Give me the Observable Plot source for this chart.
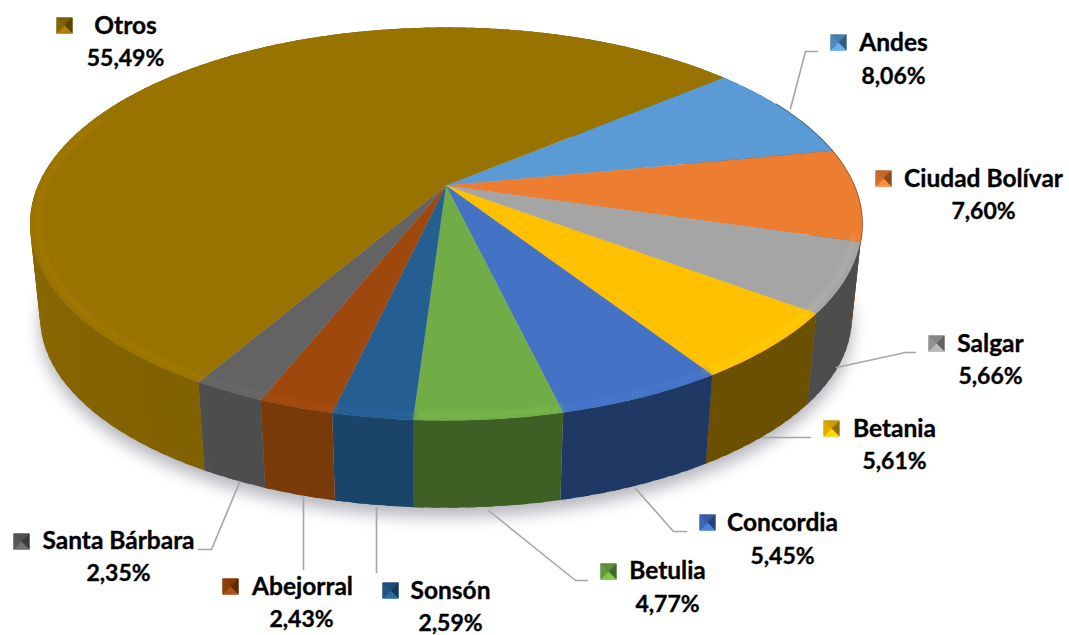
<!DOCTYPE html>
<html><head><meta charset="utf-8">
<style>html,body{margin:0;padding:0;background:#fff}svg{display:block}</style>
<script src="https://cdn.jsdelivr.net/npm/d3@7"></script>
<script src="https://cdn.jsdelivr.net/npm/@observablehq/plot@0.6"></script>
</head><body><script>
// Data
const names = ["Andes","Ciudad Bolívar","Salgar","Betania","Concordia","Betulia","Sonsón","Abejorral","Santa Bárbara","Otros"];
const values = [8.06,7.60,5.66,5.61,5.45,4.77,2.59,2.43,2.35,55.49];
// Styling
const topColors  = ["#5b9bd5","#ed7d31","#a5a5a5","#ffc000","#4472c4","#70ad47","#255e91","#9e480e","#636363","#997300"];
const wallColors = ["#2e5f8c","#8e4b1d","#4d4d4d","#6b5000","#1f3864","#3f6024","#1b4568","#793a0a","#4c4c4c","#7f6000"];
// Layout: label centre, swatch centre, leader polyline
const nameX  = [893,983,990,894,782,667,450,302,118,125];
const nameY  = [43,179,344,429,523,571,591,587,541,26];
const pctX   = [893,983,990,894,782,667,450,301,118,125];
const pctY   = [76,211,376,461,556,604,623,619,573,58];
const swatchX= [838,883,936,831,707,608,390,230,21,64];
const swatchY= [42,178,343,428,522,571,590,586,541,25];
const leaders= [[[790,108],[805,51],[817,51]],[],[[836,367],[905,352],[915,352]],[[762,437],[810,437]],
  [[635,488],[673,531],[686,531]],[[488,510],[575,580],[587,580]],[[376,507],[376,572]],[[303,497],[303,569]],
  [[239,482],[211,549],[198,549]],[]];
const wallSweepBack = [0,0,14,0,0,0,0,0,0,0];
const startAngle = 50.0;
const persp = 0.196;
const topRim = {cx:445.5, cy:185, a:408, b:189};
const botRim = {cx:445.5, cy:280, a:398, b:182.7};

const rad = d => d*Math.PI/180;
function proj(p, deg, r=1){
  const u = r*Math.sin(rad(deg)), v = -r*Math.cos(rad(deg)), w = 1 - persp*v;
  return [p.cx + p.a*u/w, p.cy + p.b*v/w];
}
const total = d3.sum(values);
const ends = d3.cumsum(values).map(c => startAngle + c/total*360);
const starts = ends.map((e,i) => i ? ends[i-1] : startAngle);
function angles(a,b,step=1){ const out=[]; for(let t=a;t<b;t+=step) out.push(t); out.push(b); return out; }

const faces=[], walls=[], bevels=[], edges=[], swatches=[], lines=[];
names.forEach((n,i)=>{
  faces.push({id:"f"+i,x:topRim.cx,y:topRim.cy,fill:topColors[i]});
  angles(starts[i],ends[i]).forEach(t=>{const [x,y]=proj(topRim,t);faces.push({id:"f"+i,x,y,fill:topColors[i]});});
  // wall strips, each overlapping the next so no seams show
  const as=angles(starts[i],ends[i],2);
  for(let k=as.length-2;k>=0;k--){
    const t0=as[k],t1=Math.min(as[k+1]+1.2,ends[i]),s=Math.sin(rad((as[k]+as[k+1])/2));
    const shade=s<0?0.42*Math.pow(-s,2.5):0;
    const fill=d3.interpolateRgb(wallColors[i],topColors[i])(shade);
    const id=`w${i}-${k}`;
    [proj(topRim,t0),proj(topRim,t1),proj(botRim,t1),proj(botRim,t0)].forEach(([x,y])=>walls.push({id,x,y,fill}));
  }
  if(wallSweepBack[i]){
    const id="wb"+i,fill=wallColors[i];
    [proj(topRim,starts[i]),...angles(starts[i]-wallSweepBack[i],starts[i]).map(t=>proj(botRim,t))].forEach(([x,y])=>walls.push({id,x,y,fill}));
  }
  const a=Math.max(starts[i],104),b=Math.min(ends[i],292);
  if(a<b){
    const stroke=d3.color(topColors[i]).brighter(0.28).formatHex();
    angles(a,b).forEach(t=>{const [x,y]=proj(topRim,t,0.982);bevels.push({id:"b"+i,x,y,stroke});});
  }
  const ea=Math.max(starts[i],62),eb=Math.min(ends[i],106);
  if(ea<eb){
    angles(ea,eb).forEach(t=>{const [x,y]=proj(topRim,t,1);edges.push({id:"e"+i,x,y,stroke:wallColors[i]});});
  }
  // pyramid swatch: base square plus four triangles
  const cx=swatchX[i],cy=swatchY[i],h=8,c=d3.color(topColors[i]);
  const tones=[c.darker(0.6),c.darker(1.5),c.brighter(0.35),c.darker(0.35)];
  [[-h,-h],[h,-h],[h,h],[-h,h]].forEach(([dx,dy])=>swatches.push({id:`sb${i}`,x:cx+dx,y:cy+dy,fill:tones[0].formatHex()}));
  [[[-h,-h],[h,-h]],[[h,-h],[h,h]],[[h,h],[-h,h]],[[-h,h],[-h,-h]]].forEach((e,j)=>{
    const fill=tones[j].formatHex(),id=`s${i}-${j}`;
    [[0,0],...e].forEach(([dx,dy])=>swatches.push({id,x:cx+dx,y:cy+dy,fill}));
  });
  leaders[i].forEach(([x,y])=>lines.push({id:"l"+i,x,y}));
});
const shadow=angles(0,360,2).map(t=>{const [x,y]=proj(botRim,t);return {x,y:y+9};});
const blur=px=>(index,scales,vals,dim,ctx,next)=>{const g=next(index,scales,vals,dim,ctx);g.style.filter=`blur(${px}px)`;return g;};
const labels=names.map((n,i)=>({n,x:nameX[i],y:nameY[i]}));
const pcts=values.map((v,i)=>({t:v.toFixed(2).replace(".",",")+"%",x:pctX[i],y:pctY[i]}));
const textOpts={x:"x",y:"y",fill:"#000",stroke:"#000",strokeWidth:0.35,fontFamily:"Lato, Carlito, sans-serif",fontWeight:700,textAnchor:"middle",lineAnchor:"middle"};

const chart=Plot.plot({
  width:1069,height:635,margin:0,
  x:{domain:[0,1069],range:[0,1069],axis:null},
  y:{domain:[0,635],range:[0,635],axis:null},
  color:{type:"identity"},
  marks:[
    Plot.line(shadow,{x:"x",y:"y",fill:"#b4b4bc",stroke:"none",render:blur(8)}),
    Plot.line(walls,{x:"x",y:"y",z:"id",fill:"fill",stroke:"none"}),
    Plot.line(edges,{x:"x",y:"y",z:"id",stroke:"stroke",strokeWidth:1.6}),
    Plot.line(faces,{x:"x",y:"y",z:"id",fill:"fill",stroke:"none"}),
    Plot.line(bevels,{x:"x",y:"y",z:"id",stroke:"stroke",strokeWidth:4.5,strokeOpacity:0.6,render:blur(2)}),
    Plot.line(lines,{x:"x",y:"y",z:"id",stroke:"#a6a6a6",strokeWidth:1.6}),
    Plot.line(swatches,{x:"x",y:"y",z:"id",fill:"fill",stroke:"none"}),
    Plot.text(labels,{...textOpts,text:"n",fontSize:24.5}),
    Plot.text(pcts,{...textOpts,text:"t",fontSize:23})
  ]
});
document.body.appendChild(chart);
</script></body></html>
